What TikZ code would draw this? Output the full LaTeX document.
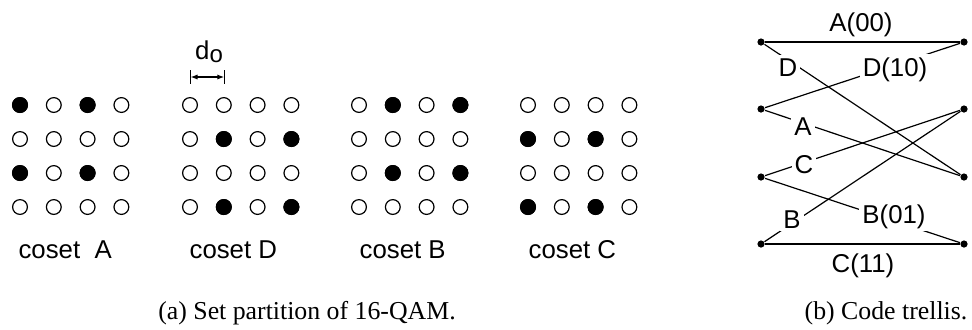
\documentclass[tikz,border=0pt]{standalone}
\usepackage{fontspec}
\setmainfont{Liberation Sans}
\newfontfamily\capfont{Liberation Serif}
\usetikzlibrary{arrows.meta}

\begin{document}
\begin{tikzpicture}[x=0.5pt, y=-0.5pt, line width=0.6pt,
    font=\fontsize{12.9}{15}\selectfont,
    open/.style={draw, fill=white},
    full/.style={draw, fill=black},
    state/.style={circle, fill, inner sep=0pt, minimum size=3.6pt},
    lbl/.style={fill=white, inner sep=1.5pt, anchor=base},
    captext/.style={font=\fontsize{12.9}{15}\selectfont\capfont, anchor=base}]

    \useasboundingbox (0,0) rectangle (972,329);

    %% Set partition

    % Coset A
    \begin{scope}[shift={(20,105)}]
        \foreach \i in {0,...,3} \foreach \j in {0,...,3}
            \draw[open] (33.8*\i,34*\j) circle (3.7pt);
        \foreach \i/\j in {0/0,2/0,0/2,2/2}
            \draw[full] (33.8*\i,34*\j) circle (3.7pt);
        \node[anchor=base west, inner sep=0pt] (cosetA) at (-2,153) {coset\ \ A};
    \end{scope}

    % Coset D
    \begin{scope}[shift={(190,105)}]
        \foreach \i in {0,...,3} \foreach \j in {0,...,3}
            \draw[open] (33.8*\i,34*\j) circle (3.7pt);
        \foreach \i/\j in {1/1,3/1,1/3,3/3}
            \draw[full] (33.8*\i,34*\j) circle (3.7pt);
        \node[anchor=base west, inner sep=0pt] (cosetD) at (-1,153) {coset D};
    \end{scope}

    % Coset B
    \begin{scope}[shift={(359,105)}]
        \foreach \i in {0,...,3} \foreach \j in {0,...,3}
            \draw[open] (33.8*\i,34*\j) circle (3.7pt);
        \foreach \i/\j in {1/0,3/0,1/2,3/2}
            \draw[full] (33.8*\i,34*\j) circle (3.7pt);
        \node[anchor=base west, inner sep=0pt] (cosetB) at (0,153) {coset B};
    \end{scope}

    % Coset C
    \begin{scope}[shift={(528,105)}]
        \foreach \i in {0,...,3} \foreach \j in {0,...,3}
            \draw[open] (33.8*\i,34*\j) circle (3.7pt);
        \foreach \i/\j in {0/1,2/1,0/3,2/3}
            \draw[full] (33.8*\i,34*\j) circle (3.7pt);
        \node[anchor=base west, inner sep=0pt] (cosetC) at (0,153) {coset C};
    \end{scope}

    % Minimum distance d_o
    \coordinate (dl) at (190.5,77);
    \coordinate (dr) at (224.3,77);
    \draw (dl) ++(0,-7) -- ++(0,14);
    \draw (dr) ++(0,-7) -- ++(0,14);
    \draw[{Latex[length=3.5pt,width=2.6pt]}-{Latex[length=3.5pt,width=2.6pt]}] (dl) -- (dr);
    \node[anchor=base, inner sep=0pt] (dist) at (209,59)
        {d\raisebox{-1.5pt}{\fontsize{12}{14}\selectfont o}};

    \node[captext] (capA) at (307,319) {(a) Set partition of 16-QAM.};

    %% Code trellis

    \begin{scope}
        % States
        \node[state] (l0) at (761,42) {};
        \node[state] (l1) at (761,109) {};
        \node[state] (l2) at (761,177) {};
        \node[state] (l3) at (761,244) {};
        \node[state] (r0) at (964,42) {};
        \node[state] (r1) at (964,109) {};
        \node[state] (r2) at (964,177) {};
        \node[state] (r3) at (964,244) {};

        % Branches
        \draw (l0) -- (r0);
        \draw (l0) -- (r2);
        \draw (l1) -- (r0);
        \draw (l1) -- (r2);
        \draw (l2) -- (r1);
        \draw (l2) -- (r3);
        \draw (l3) -- (r1);
        \draw (l3) -- (r3);

        % Branch labels
        \node[lbl] (labA00) at (861,31) {A(00)};
        \node[lbl] (labD) at (788,76) {D};
        \node[lbl] (labD10) at (895,76) {D(10)};
        \node[lbl] (labA) at (803,135) {A};
        \node[lbl] (labC) at (804,173) {C};
        \node[lbl] (labB01) at (894,223) {B(01)};
        \node[lbl] (labB) at (792,228) {B};
        \node[lbl] (labC11) at (863,272) {C(11)};
    \end{scope}

    \node[captext] (capB) at (886,319) {(b) Code trellis.};

\end{tikzpicture}
\end{document}
